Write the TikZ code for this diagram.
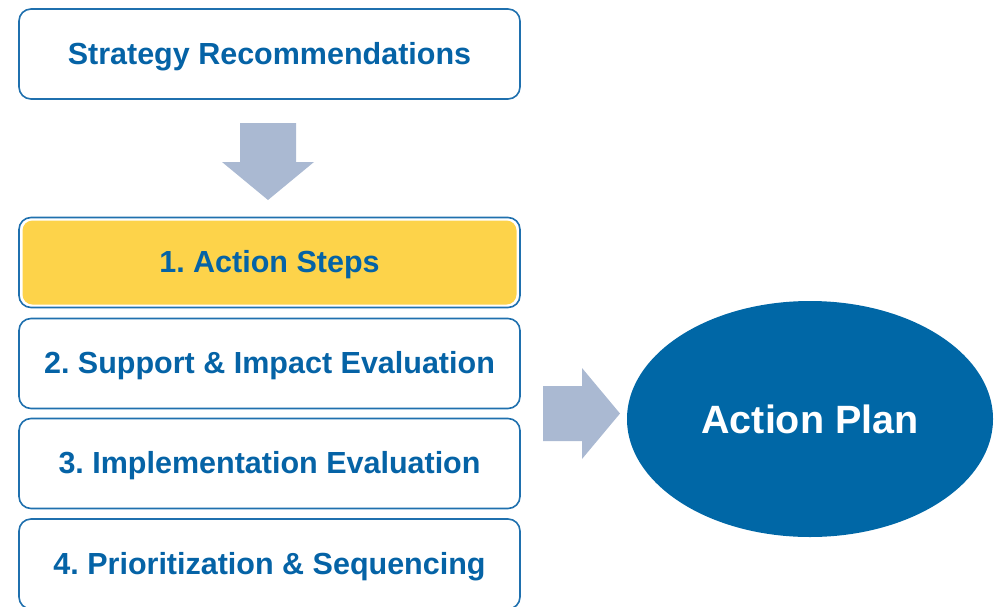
\documentclass[tikz,border=0pt]{standalone}
\usepackage{fontspec}
\setmainfont{Liberation Sans}
\usetikzlibrary{shapes.geometric}
\frenchspacing
\definecolor{boxblue}{HTML}{1F70AE}
\definecolor{txtblue}{HTML}{0563A6}
\definecolor{ovalblue}{HTML}{0067A6}
\definecolor{arrowgray}{HTML}{AAB9D2}
\definecolor{stepyellow}{HTML}{FDD34A}
\tikzset{
  stagefont/.style={font=\fontsize{30.5}{34}\selectfont\bfseries\frenchspacing, text=txtblue,
    text height=22pt, text depth=2pt},
  stagebox/.style={draw=boxblue, line width=1.6pt, rounded corners=12pt, fill=white,
    minimum width=501pt, minimum height=90pt, inner sep=0pt, stagefont},
  blockarrow/.style={fill=arrowgray, draw=none}
}
\begin{document}
\begin{tikzpicture}[x=1pt,y=-1pt]
\useasboundingbox (0,0) rectangle (999,606);
\node[stagebox] (rec) at (269.5,54) {Strategy Recommendations};
\node[stagebox] (s1) at (269.5,262.5) {};
\fill[stepyellow, rounded corners=10pt] (22.5,220.5) rectangle (516.5,304.5);
\node[stagefont, inner sep=0pt] (s1t) at (s1.center) {1. Action Steps};
\node[stagebox] (s2) at (269.5,363.5) {2. Support \& Impact Evaluation};
\node[stagebox] (s3) at (269.5,463.5) {3. Implementation Evaluation};
\node[stagebox] (s4) at (269.5,564) {4. Prioritization \& Sequencing};
\node[ellipse, fill=ovalblue, minimum width=366pt, minimum height=236pt, inner sep=0pt,
  text=white, font=\fontsize{39.5}{44}\selectfont\bfseries] (plan) at (810,419) {Action Plan};
\fill[blockarrow] (240,123) -- (296,123) -- (296,162) -- (314,162) -- (268,200) -- (222,162) -- (240,162) -- cycle;
\fill[blockarrow] (543,386) -- (582,386) -- (582,368) -- (620,413.5) -- (582,459) -- (582,441) -- (543,441) -- cycle;
\end{tikzpicture}
\end{document}
